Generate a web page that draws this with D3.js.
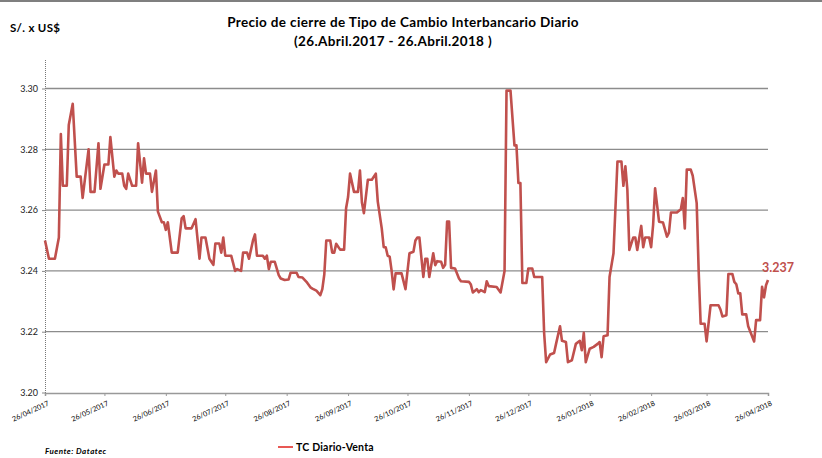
<!DOCTYPE html>
<html>
<head>
<meta charset="utf-8">
<script src="https://cdn.jsdelivr.net/npm/d3@7"></script>
<style>
  body { margin: 0; background: #fff; }
  text { font-family: Lato, "Open Sans", sans-serif; }
</style>
</head>
<body>
<div id="chart"></div>
<script>
// Data (daily close, S/. per US$)
const dates = [
  "2017-04-26","2017-04-28","2017-05-01","2017-05-03","2017-05-04","2017-05-05","2017-05-07","2017-05-08",
  "2017-05-10","2017-05-12","2017-05-14","2017-05-15","2017-05-18","2017-05-19","2017-05-21","2017-05-23",
  "2017-05-24","2017-05-26","2017-05-28","2017-05-29","2017-05-31","2017-06-01","2017-06-02","2017-06-04",
  "2017-06-05","2017-06-06","2017-06-07","2017-06-09","2017-06-11","2017-06-12","2017-06-14","2017-06-15",
  "2017-06-16","2017-06-18","2017-06-19","2017-06-21","2017-06-22","2017-06-24","2017-06-25","2017-06-26",
  "2017-06-27","2017-06-29","2017-07-02","2017-07-04","2017-07-05","2017-07-06","2017-07-09","2017-07-11",
  "2017-07-13","2017-07-14","2017-07-16","2017-07-18","2017-07-20","2017-07-21","2017-07-23","2017-07-24",
  "2017-07-25","2017-07-26","2017-07-29","2017-07-31","2017-08-01","2017-08-03","2017-08-04","2017-08-06",
  "2017-08-07","2017-08-09","2017-08-10","2017-08-11","2017-08-14","2017-08-15","2017-08-16","2017-08-17",
  "2017-08-18","2017-08-20","2017-08-22","2017-08-23","2017-08-25","2017-08-27","2017-08-28","2017-08-31",
  "2017-09-01","2017-09-03","2017-09-05","2017-09-07","2017-09-08","2017-09-10","2017-09-12","2017-09-13",
  "2017-09-14","2017-09-15","2017-09-17","2017-09-18","2017-09-19","2017-09-20","2017-09-22","2017-09-24",
  "2017-09-25","2017-09-26","2017-09-27","2017-09-29","2017-10-01","2017-10-02","2017-10-03","2017-10-04",
  "2017-10-06","2017-10-08","2017-10-10","2017-10-11","2017-10-13","2017-10-14","2017-10-15","2017-10-16",
  "2017-10-17","2017-10-18","2017-10-19","2017-10-20","2017-10-23","2017-10-25","2017-10-27","2017-10-29",
  "2017-10-30","2017-10-31","2017-11-01","2017-11-03","2017-11-04","2017-11-05","2017-11-06","2017-11-08",
  "2017-11-09","2017-11-10","2017-11-12","2017-11-13","2017-11-14","2017-11-15","2017-11-16","2017-11-17",
  "2017-11-19","2017-11-21","2017-11-22","2017-11-26","2017-11-27","2017-11-28","2017-11-30","2017-12-01",
  "2017-12-02","2017-12-04","2017-12-05","2017-12-06","2017-12-10","2017-12-12","2017-12-14","2017-12-15",
  "2017-12-17","2017-12-19","2017-12-20","2017-12-21","2017-12-22","2017-12-23","2017-12-25","2017-12-26",
  "2017-12-28","2017-12-29","2018-01-02","2018-01-03","2018-01-04","2018-01-06","2018-01-08","2018-01-09",
  "2018-01-11","2018-01-12","2018-01-14","2018-01-15","2018-01-17","2018-01-19","2018-01-21","2018-01-22",
  "2018-01-23","2018-01-24","2018-01-26","2018-01-28","2018-01-30","2018-01-31","2018-02-01","2018-02-02",
  "2018-02-04","2018-02-05","2018-02-07","2018-02-09","2018-02-11","2018-02-12","2018-02-13","2018-02-14",
  "2018-02-15","2018-02-17","2018-02-18","2018-02-19","2018-02-21","2018-02-22","2018-02-23","2018-02-25",
  "2018-02-26","2018-02-27","2018-02-28","2018-03-02","2018-03-04","2018-03-06","2018-03-07","2018-03-08",
  "2018-03-11","2018-03-13","2018-03-14","2018-03-15","2018-03-16","2018-03-18","2018-03-19","2018-03-21",
  "2018-03-22","2018-03-23","2018-03-25","2018-03-26","2018-03-28","2018-04-01","2018-04-02","2018-04-03",
  "2018-04-05","2018-04-06","2018-04-08","2018-04-09","2018-04-10","2018-04-11","2018-04-12","2018-04-13",
  "2018-04-15","2018-04-16","2018-04-19","2018-04-20","2018-04-22","2018-04-23","2018-04-24","2018-04-25",
  "2018-04-26"
];
const values = [
  3.250,3.244,3.244,3.251,3.285,3.268,3.268,3.288,
  3.295,3.271,3.271,3.264,3.280,3.266,3.266,3.282,
  3.267,3.275,3.275,3.284,3.271,3.273,3.272,3.272,
  3.268,3.267,3.272,3.268,3.268,3.282,3.269,3.277,
  3.272,3.272,3.266,3.273,3.2595,3.256,3.256,3.2535,
  3.256,3.246,3.246,3.2573,3.258,3.254,3.254,3.257,
  3.244,3.251,3.251,3.244,3.242,3.249,3.249,3.246,
  3.251,3.245,3.245,3.240,3.2406,3.240,3.246,3.246,
  3.244,3.250,3.252,3.245,3.245,3.244,3.245,3.2406,
  3.243,3.243,3.2386,3.2375,3.237,3.2372,3.2394,3.2394,
  3.238,3.2378,3.2364,3.2346,3.2342,3.2335,3.232,3.234,
  3.2388,3.250,3.250,3.246,3.246,3.2489,3.247,3.247,
  3.2606,3.2643,3.272,3.266,3.266,3.273,3.2625,3.259,
  3.270,3.270,3.272,3.2628,3.254,3.2478,3.2478,3.245,
  3.2447,3.240,3.2339,3.2392,3.2392,3.234,3.2458,3.2463,
  3.250,3.251,3.251,3.238,3.244,3.244,3.238,3.2458,
  3.2419,3.2432,3.243,3.241,3.242,3.2562,3.2562,3.241,
  3.2408,3.2375,3.2366,3.2364,3.2355,3.2329,3.234,3.233,
  3.2337,3.233,3.2366,3.235,3.2347,3.2329,3.240,3.2993,
  3.2993,3.2813,3.2813,3.2689,3.2689,3.236,3.236,3.2408,
  3.2408,3.238,3.238,3.2194,3.210,3.2125,3.213,3.216,
  3.2218,3.217,3.2166,3.210,3.2106,3.216,3.217,3.2139,
  3.2196,3.210,3.2144,3.215,3.216,3.2166,3.2116,3.2185,
  3.2188,3.238,3.2458,3.276,3.276,3.268,3.2744,3.2667,
  3.2469,3.251,3.251,3.2469,3.2548,3.2478,3.251,3.251,
  3.2478,3.2551,3.2672,3.2562,3.2559,3.2513,3.2526,3.2592,
  3.2592,3.2603,3.264,3.254,3.2733,3.2733,3.2713,3.2623,
  3.240,3.2226,3.2226,3.2168,3.2287,3.2287,3.2273,3.225,
  3.2254,3.239,3.239,3.2364,3.2356,3.2326,3.2326,3.2257,
  3.2257,3.2218,3.2168,3.2238,3.2238,3.2348,3.2313,3.2353,
  3.237
];
const yTicks = [3.20, 3.22, 3.24, 3.26, 3.28, 3.30];
const lastLabel = "3.237";
const seriesName = "TC Diario-Venta";

const width = 822, height = 458;
const parse = d3.timeParse("%Y-%m-%d");
const data = dates.map((d, i) => ({ date: parse(d), value: values[i] }));

const svg = d3.select("#chart").append("svg")
    .attr("width", width)
    .attr("height", height);

// soft glow behind grid lines
const defs = svg.append("defs");
defs.append("filter").attr("id", "glow")
    .attr("x", "-5%").attr("y", "-500%").attr("width", "110%").attr("height", "1100%")
  .append("feGaussianBlur").attr("stdDeviation", 3);

// top border
svg.append("rect").attr("x", 0).attr("y", 0).attr("width", width).attr("height", 2).attr("fill", "#7f7f7f");

const x = d3.scaleTime()
    .domain([parse("2017-04-26"), parse("2018-04-26")])
    .range([45, 768]);
const y = d3.scaleLinear()
    .domain([3.20, 3.30])
    .range([392.5, 88.5]);

// titles
svg.append("text")
    .attr("x", 403).attr("y", 27)
    .attr("text-anchor", "middle")
    .attr("font-size", 13.5).attr("font-weight", "bold").attr("fill", "#000")
    .attr("letter-spacing", 0.35)
    .text("Precio de cierre de Tipo de Cambio Interbancario  Diario");
svg.append("text")
    .attr("x", 393).attr("y", 46)
    .attr("text-anchor", "middle")
    .attr("font-size", 13.5).attr("font-weight", "bold").attr("fill", "#000")
    .attr("letter-spacing", 0.35)
    .text("(26.Abril.2017 - 26.Abril.2018 )");
svg.append("text")
    .attr("x", 10).attr("y", 32)
    .attr("font-size", 11.5).attr("font-weight", "bold").attr("fill", "#000")
    .attr("letter-spacing", 0.3)
    .text("S/. x US$");

// grid lines
const grid = svg.append("g");
grid.selectAll(".glow").data(yTicks.slice(1)).join("line")
    .attr("x1", 45).attr("x2", 770)
    .attr("y1", d => y(d)).attr("y2", d => y(d))
    .attr("stroke", "#dfe5ef").attr("stroke-width", 7)
    .attr("filter", "url(#glow)");
grid.selectAll(".gl").data(yTicks.slice(1)).join("line")
    .attr("x1", 45).attr("x2", 768)
    .attr("y1", d => y(d)).attr("y2", d => y(d))
    .attr("stroke", "#8c8c8c").attr("stroke-width", 1.3);

// y axis
const yAxis = svg.append("g")
    .attr("transform", "translate(45,0)")
    .call(d3.axisLeft(y).tickValues(yTicks).tickFormat(d3.format(".2f")).tickSize(3));
yAxis.select(".domain").remove();
yAxis.selectAll(".tick line").attr("stroke", "#888");
yAxis.selectAll(".tick text")
    .attr("font-family", "Lato, sans-serif")
    .attr("font-size", 9).attr("fill", "#222").attr("x", -7);
svg.append("line")
    .attr("x1", 45.5).attr("x2", 45.5).attr("y1", 60).attr("y2", 393)
    .attr("stroke", "#777").attr("stroke-width", 1).attr("stroke-dasharray", "1,1");

// x axis
const monthTicks = d3.range(0, 13).map(i => d3.timeMonth.offset(parse("2017-04-26"), i));
const xAxis = svg.append("g")
    .attr("transform", "translate(0,393)")
    .call(d3.axisBottom(x).tickValues(monthTicks).tickFormat(d3.timeFormat("%d/%m/%Y")).tickSize(3));
xAxis.select(".domain").attr("stroke", "#999").attr("stroke-width", 1.5);
xAxis.selectAll(".tick line").attr("stroke", "#999");
xAxis.selectAll(".tick text")
    .attr("font-family", "Lato, sans-serif")
    .attr("font-size", 7.2).attr("fill", "#000")
    .attr("text-anchor", "end")
    .attr("dy", 0).attr("y", 0).attr("x", 0)
    .attr("transform", "translate(4,12) rotate(-25)");

// series line
const line = d3.line()
    .x(d => x(d.date))
    .y(d => y(d.value));
svg.append("path")
    .datum(data)
    .attr("fill", "none")
    .attr("stroke", "#c0504d")
    .attr("stroke-width", 2.6)
    .attr("stroke-linejoin", "round")
    .attr("d", line);

// last value label
const last = data[data.length - 1];
svg.append("text")
    .attr("x", x(last.date) - 6).attr("y", y(3.2395))
    .attr("font-size", 12.5).attr("font-weight", "bold").attr("fill", "#c0504d")
    .text(lastLabel);

// legend
svg.append("line")
    .attr("x1", 278).attr("x2", 293).attr("y1", 447).attr("y2", 447)
    .attr("stroke", "#e0201b").attr("stroke-width", 1.5);
svg.append("text")
    .attr("x", 296).attr("y", 451)
    .attr("font-size", 10.5).attr("font-weight", "bold").attr("fill", "#000")
    .attr("letter-spacing", 0.2)
    .text(seriesName);

// source
svg.append("text")
    .attr("x", 45).attr("y", 454)
    .attr("font-size", 8).attr("font-weight", "bold").attr("font-style", "italic").attr("fill", "#000")
    .attr("letter-spacing", 0.5)
    .text("Fuente: Datatec");
</script>
</body>
</html>
